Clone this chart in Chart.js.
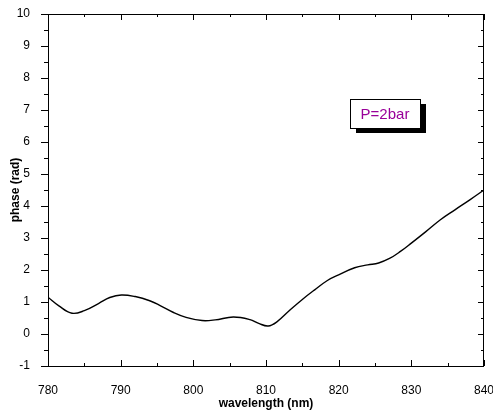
<!DOCTYPE html>
<html>
<head>
<meta charset="utf-8">
<script src="https://cdn.jsdelivr.net/npm/chart.js@4.4.0/dist/chart.umd.min.js"></script>
<style>
  html, body { margin: 0; padding: 0; background: #fff; }
  #wrap { width: 493px; height: 416px; }
</style>
</head>
<body>
<div id="wrap"><canvas id="phaseChart"></canvas></div>
<script>
// wavelength (nm) vs phase (rad)
const wavelength = [780, 781.5, 783.3, 785, 787, 788.5, 790.1, 792, 794, 795.5, 797.2, 799, 801.2, 803, 805.5, 807.8, 809, 810.3, 811.5, 813.3, 815, 816.7, 818.5, 820, 822.2, 824, 825.5, 827, 828.5, 830, 832, 834, 836, 838.1, 840];
const phase      = [1.15, 0.88, 0.65, 0.73, 0.96, 1.14, 1.22, 1.17, 1.04, 0.88, 0.68, 0.52, 0.42, 0.44, 0.53, 0.45, 0.33, 0.25, 0.38, 0.75, 1.08, 1.38, 1.68, 1.85, 2.07, 2.16, 2.22, 2.36, 2.58, 2.84, 3.2, 3.57, 3.88, 4.2, 4.5];

const xTicks = [780, 790, 800, 810, 820, 830, 840];
const yTicks = [-1, 0, 1, 2, 3, 4, 5, 6, 7, 8, 9, 10];
const labelText = 'P=2bar';

const points = wavelength.map((w, i) => ({ x: w, y: phase[i] }));

// frame + Origin-style ticks (left ticks outside, the rest inside)
const framePlugin = {
  id: 'frame',
  afterDraw(chart) {
    const { ctx, chartArea: a, scales } = chart;
    const xs = scales.x, ys = scales.y;
    ctx.save();
    ctx.strokeStyle = '#000';
    ctx.lineWidth = 1;
    ctx.strokeRect(a.left + 0.5, a.top + 0.5, a.right - a.left - 1, a.bottom - a.top);
    ctx.beginPath();
    for (let v = 780; v <= 840; v += 5) {
      const px = Math.round(xs.getPixelForValue(v)) + 0.5;
      const len = v % 10 === 0 ? 6 : 3;
      ctx.moveTo(px, a.bottom); ctx.lineTo(px, a.bottom - len);
      ctx.moveTo(px, a.top); ctx.lineTo(px, a.top + len);
    }
    for (let v = -1; v <= 10; v += 0.5) {
      const py = Math.round(ys.getPixelForValue(v)) + 0.5;
      const major = Number.isInteger(v);
      ctx.moveTo(a.left, py); ctx.lineTo(a.left - (major ? 7 : 4), py);
      ctx.moveTo(a.right, py); ctx.lineTo(a.right - (major ? 6 : 3), py);
    }
    ctx.stroke();

    // label box with shadow
    const cx = xs.getPixelForValue(826.4);
    const cy = ys.getPixelForValue(6.9);
    const w = 70, h = 29;
    const bx = Math.round(cx - w / 2), by = Math.round(cy - h / 2);
    ctx.fillStyle = '#000';
    ctx.fillRect(bx + 6, by + 5, w, h);
    ctx.fillStyle = '#fff';
    ctx.fillRect(bx, by, w, h);
    ctx.strokeRect(bx + 0.5, by + 0.5, w, h);
    ctx.fillStyle = '#990099';
    ctx.font = '15px "Liberation Sans", Arial, sans-serif';
    ctx.textAlign = 'center';
    ctx.textBaseline = 'middle';
    ctx.fillText(labelText, bx + w / 2, by + h / 2 + 1);
    ctx.restore();
  }
};

const ctx = document.getElementById('phaseChart').getContext('2d');
new Chart(ctx, {
  type: 'line',
  data: {
    datasets: [{
      data: points,
      borderColor: '#000',
      borderWidth: 1.4,
      pointRadius: 0,
      tension: 0.4,
      fill: false
    }]
  },
  options: {
    responsive: true,
    maintainAspectRatio: false,
    animation: false,
    layout: { padding: { top: 14, right: 9 } },
    plugins: { legend: { display: false }, tooltip: { enabled: false } },
    scales: {
      x: {
        type: 'linear',
        min: 780, max: 840,
        afterBuildTicks: s => { s.ticks = xTicks.map(v => ({ value: v })); },
        afterFit: s => { s.height = 50; s.paddingLeft = 0; s.paddingRight = 0; },
        grid: { display: false },
        border: { display: false },
        ticks: { color: '#000', padding: 9, maxRotation: 0, font: { family: '"Liberation Sans", Arial', size: 12 } },
        title: { display: true, text: 'wavelength (nm)', color: '#000', padding: { top: 4, bottom: 5 }, font: { family: '"Liberation Sans", Arial', size: 12, weight: 'bold' } }
      },
      y: {
        min: -1, max: 10,
        afterBuildTicks: s => { s.ticks = yTicks.map(v => ({ value: v })); },
        afterFit: s => { s.width = 48; s.paddingTop = 0; s.paddingBottom = 0; },
        grid: { display: false },
        border: { display: false },
        ticks: { color: '#000', padding: 10, font: { family: '"Liberation Sans", Arial', size: 12 } },
        title: { display: true, text: 'phase (rad)', color: '#000', padding: { top: 8, bottom: 4 }, font: { family: '"Liberation Sans", Arial', size: 12, weight: 'bold' } }
      }
    }
  },
  plugins: [framePlugin]
});
</script>
</body>
</html>
